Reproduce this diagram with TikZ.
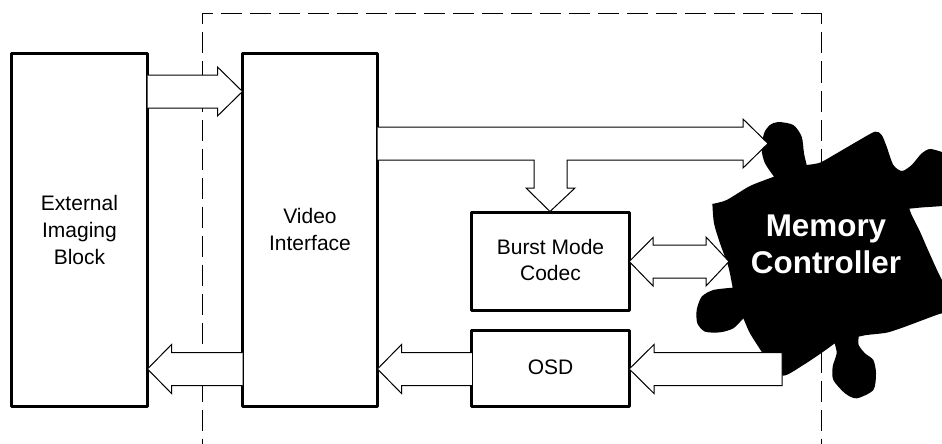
\documentclass[tikz,border=0pt]{standalone}
\usepackage{fontspec}
\setmainfont{Liberation Sans}
\usetikzlibrary{calc}
\tikzset{
  x=1pt,y=-1pt,
  blockbox/.style={draw=black,fill=white,line width=3pt,line join=round,outer sep=0pt,inner sep=0pt},
  blocktext/.style={align=center,inner sep=0pt,font=\fontsize{21}{#1}\selectfont},
  blockarrow/.style={draw=black,fill=white,line width=1pt,line join=miter},
  boundary/.style={draw=black,line width=1pt,dash pattern=on 21pt off 8pt,dash phase=10pt},
  blob/.style={fill=black,draw=none},
  memlabel/.style={text=white,font=\bfseries\fontsize{31.4}{37}\selectfont,align=center,inner sep=0pt}
}
\newcommand{\blockshaft}[3]{%
  \draw[blockarrow] ($(#1)+(0,-16.5)$) -- ($(#2)+(#3,-16.5)$) -- ($(#2)+(#3,-24.5)$) -- (#2)
     -- ($(#2)+(#3,24.5)$) -- ($(#2)+(#3,16.5)$) -- ($(#1)+(0,16.5)$);}
\begin{document}
\begin{tikzpicture}
\useasboundingbox (0,0) rectangle (942,444);
% dashed boundary
\coordinate (dTL) at (202,13.5);
\coordinate (dTR) at (821.5,13.5);
\coordinate (dBL) at (202,444);
\coordinate (dBR) at (821.5,444);
\draw[boundary] (dTL) -- (dBL);
\draw[boundary] (dTL) -- (dTR);
\draw[boundary] (dTR) -- (dBR);
% puzzle piece
\begin{scope}[shift={(690,100)},x=0.33333pt,y=-0.33333pt]
\fill[blob] plot[smooth cycle,tension=0.45] coordinates {
 (265,66) (310,75) (335,110) (342,160) (350,195) (350,195) (390,188) (440,160) (500,125) (555,95)
 (575,105) (590,140) (610,195) (636,213) (665,195) (695,160) (720,147) (756,156) (800,170)
 (800,310) (756,318) (700,322) (658,326) (658,326) (665,345) (690,395) (714,450) (756,540) (800,600) (800,640) (756,640)
 (699,660) (640,682) (590,698) (530,705) (506,710) (506,710) (506,735) (525,760) (550,780) (558,820) (550,870)
 (500,895) (465,880) (430,840) (428,800) (440,760) (434,730) (434,730) (400,755) (340,795) (280,827)
 (240,790) (215,755) (180,700) (160,655) (160,655) (130,685) (90,697) (45,695) (22,670) (20,630) (35,590) (70,570) (128,563) (128,563)
 (115,500) (90,430) (72,370) (67,312) (67,312) (110,300) (180,258) (252,230) (252,230) (225,190) (215,150) (222,100) (240,75)};
\end{scope}
% blocks
\node[blockbox,minimum width=136pt,minimum height=353pt,
  label={[blocktext=27]center:External\\Imaging\\Block}] (ext) at (79.5,230) {};
\node[blockbox,minimum width=135pt,minimum height=353pt,
  label={[blocktext=27,yshift=1pt]center:Video\\Interface}] (vid) at (310,230) {};
\node[blockbox,minimum width=157.5pt,minimum height=98pt,
  label={[blocktext=26,yshift=2pt]center:Burst Mode\\Codec}] (burst) at (550.5,261.5) {};
\node[blockbox,minimum width=157.5pt,minimum height=76pt,
  label={[blocktext=27,yshift=1pt]center:OSD}] (osd) at (550.5,368.7) {};
\node[memlabel] (mem) at (826,244) {Memory\\Controller};
% connector ends
\coordinate (a1s) at (ext.east |- 0,91.5);
\coordinate (a1t) at (vid.west |- 0,91.5);
\coordinate (a2s) at (vid.east |- 0,143.5);
\coordinate (a2t) at (768,143.5);
\coordinate (a3t) at (550,211.5);
\coordinate (a4t) at (729,261.5);
\coordinate (a5s) at (782,369);
\coordinate (a6s) at (vid.west |- 0,369);
\coordinate (a6t) at (ext.east |- 0,369);
% video -> external
\blockshaft{a6s}{a6t}{24}
% external -> video
\blockshaft{a1s}{a1t}{-25}
% video -> memory and codec (T)
\draw[blockarrow] ($(a2s)+(0,-16.5)$) -- ($(a2t)+(-25,-16.5)$) -- ($(a2t)+(-25,-24.5)$) -- (a2t)
  -- ($(a2t)+(-25,24.5)$) -- ($(a2t)+(-25,16.5)$) -- (567,160) -- (567,188) -- (575,188) -- (a3t)
  -- (526,188) -- (534,188) -- (534,160) -- ($(a2s)+(0,16.5)$);
% codec <-> memory
\draw[blockarrow] (burst.east) -- (653,237.5) -- (653,245) -- (706,245) -- (706,237) -- (a4t)
  -- (706,286) -- (706,278) -- (653,278) -- (653,286) -- cycle;
% memory -> OSD
\draw[blockarrow] (a5s |- 0,352.5) -- (654,352.5) -- (654,344.5) -- (osd.east |- 0,369) -- (654,393.5) -- (654,385.5) -- (a5s |- 0,385.5) -- cycle;
% OSD -> video
\blockshaft{osd.west |- 0,369}{vid.east |- 0,369}{24}
\end{tikzpicture}
\end{document}
